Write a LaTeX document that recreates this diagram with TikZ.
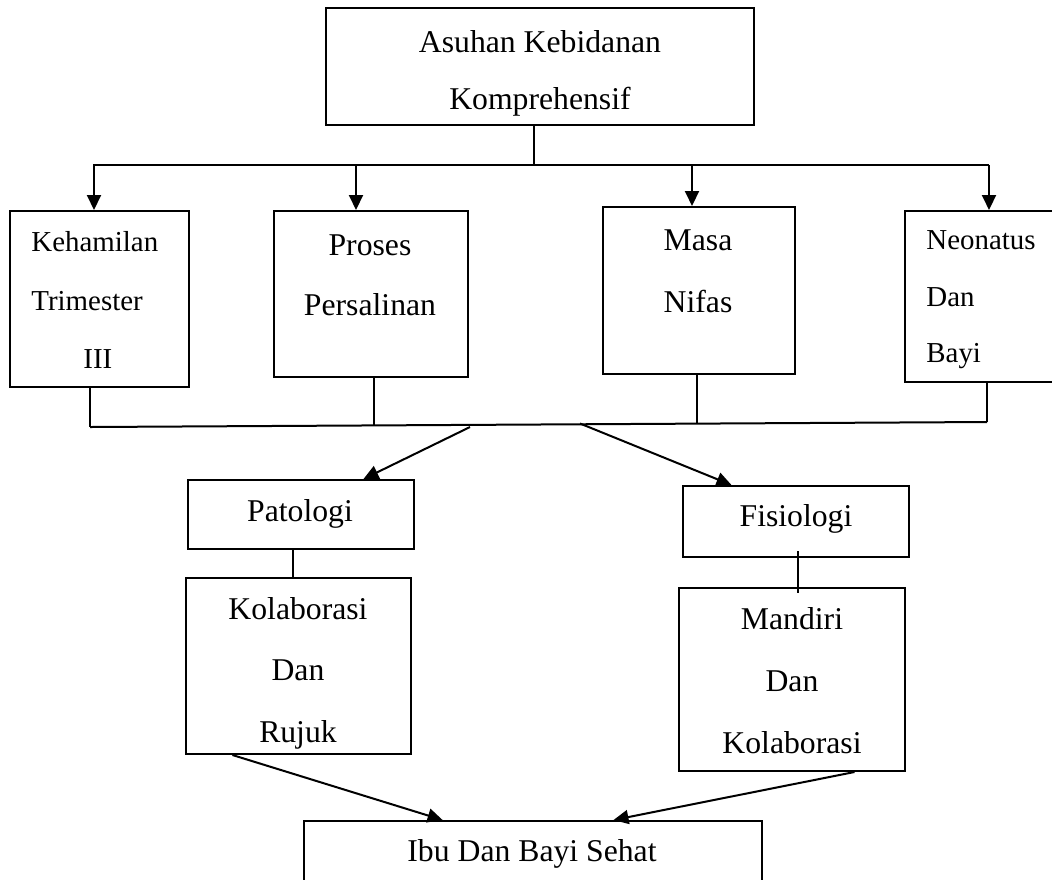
\documentclass[tikz,border=0pt]{standalone}
\usepackage{fontspec}
\setmainfont{Liberation Serif}
\usetikzlibrary{arrows.meta,calc}
\tikzset{
  box/.style={draw, line width=1pt, rectangle, inner sep=0pt},
  txt/.style={inner sep=0pt, align=center},
  lnk/.style={line width=1pt},
  arr/.style={line width=1pt, -{Triangle[length=7.5pt,width=7pt]}},
}
\newcommand{\fsz}[1]{\fontsize{15.85pt}{#1}\selectfont}
\newcommand{\fss}[1]{\fontsize{14.45pt}{#1}\selectfont}
\begin{document}
\begin{tikzpicture}[x=0.5pt,y=-0.5pt]
\useasboundingbox (0,0) rectangle (1052,879);
\clip (0,0) rectangle (1052,879);
% boxes
\node[box, minimum width=214pt, minimum height=58.5pt] (top) at (540,66.5) {};
\node[box, minimum width=89.5pt, minimum height=88pt] (b1) at (99.5,299) {};
\node[box, minimum width=97pt, minimum height=83pt] (b2) at (371,294) {};
\node[box, minimum width=96pt, minimum height=83.5pt] (b3) at (699,290.5) {};
\node[box, minimum width=78.5pt, minimum height=85.5pt] (b4) at (983.5,296.5) {};
\node[box, minimum width=113pt, minimum height=34.5pt] (pat) at (301,514.5) {};
\node[box, minimum width=112.5pt, minimum height=88pt] (kol) at (298.5,666) {};
\node[box, minimum width=113pt, minimum height=35.5pt] (fis) at (796,521.5) {};
\node[box, minimum width=113pt, minimum height=91.5pt] (man) at (792,679.5) {};
\node[box, minimum width=229pt, minimum height=39.5pt] (ibu) at (533,860.5) {};
% texts
\node[txt, font=\fsz{28.5pt}] (topt) at (540,73) {Asuhan Kebidanan\\Komprehensif};
\node[txt, align=left, anchor=west, font=\fss{29.25pt}] (b1t) at (31,300) {Kehamilan\\Trimester\\\hspace*{26pt}III};
\node[txt, font=\fsz{30pt}] (b2t) at (370,275) {Proses\\Persalinan};
\node[txt, font=\fsz{31pt}] (b3t) at (698,271) {Masa\\Nifas};
\node[txt, align=left, anchor=west, font=\fss{28.25pt}] (b4t) at (926,300) {Neonatus\\Dan\\Bayi};
\node[txt, font=\fsz{19pt}] (patt) at (300,514) {Patologi};
\node[txt, font=\fsz{30.75pt}] (kolt) at (298,673) {Kolaborasi\\Dan\\Rujuk};
\node[txt, font=\fsz{19pt}] (fist) at (796,519) {Fisiologi};
\node[txt, font=\fsz{31pt}] (mant) at (792,681) {Mandiri\\Dan\\Kolaborasi};
\node[txt, font=\fsz{19pt}] (ibut) at (532,854) {Ibu Dan Bayi Sehat};
% top distribution
\coordinate (hub) at (534,165);
\coordinate (hl) at (93,165);
\coordinate (hr) at (989,165);
\coordinate (a1) at (94,165);
\coordinate (a2) at (356,165);
\coordinate (a3) at (692,165);
\coordinate (a4) at (989,165);
\draw[lnk] (hub |- top.south) -- (hub);
\draw[lnk] (hl) -- (hr);
\draw[arr] (a1) -- (a1 |- b1.north);
\draw[arr] (a2) -- (a2 |- b2.north);
\draw[arr] (a3) -- (a3 |- b3.north);
\draw[arr] (a4) -- (a4 |- b4.north);
% collecting line
\coordinate (l1) at (90,427);
\coordinate (l2) at (374,425.4);
\coordinate (l3) at (697,423.6);
\coordinate (l4) at (987,422);
\draw[lnk] (l1 |- b1.south) -- (l1);
\draw[lnk] (l2 |- b2.south) -- (l2);
\draw[lnk] (l3 |- b3.south) -- (l3);
\draw[lnk] (l4 |- b4.south) -- (l4);
\draw[lnk] (l1) -- (l4);
% to Patologi / Fisiologi
\coordinate (p0) at (470,427);
\coordinate (f0) at (580,423.5);
\draw[arr] (p0) -- ($(pat.north west)!0.774!(pat.north east)$);
\draw[arr] (f0) -- ($(fis.north west)!0.217!(fis.north east)$);
% stems
\coordinate (s1) at (293,560);
\coordinate (s2) at (798,560);
\draw[lnk] (s1 |- pat.south) -- (s1 |- kol.north);
\draw[lnk] (s2 |- fis.south) ++(0,-7) -- ++(0,42);
% to Ibu
\draw[arr] ($(kol.south west)!0.209!(kol.south east)$) -- ($(ibu.north west)!0.3035!(ibu.north east)$);
\draw[arr] ($(man.south west)!0.774!(man.south east)$) -- ($(ibu.north west)!0.675!(ibu.north east)$);
\end{tikzpicture}
\end{document}
